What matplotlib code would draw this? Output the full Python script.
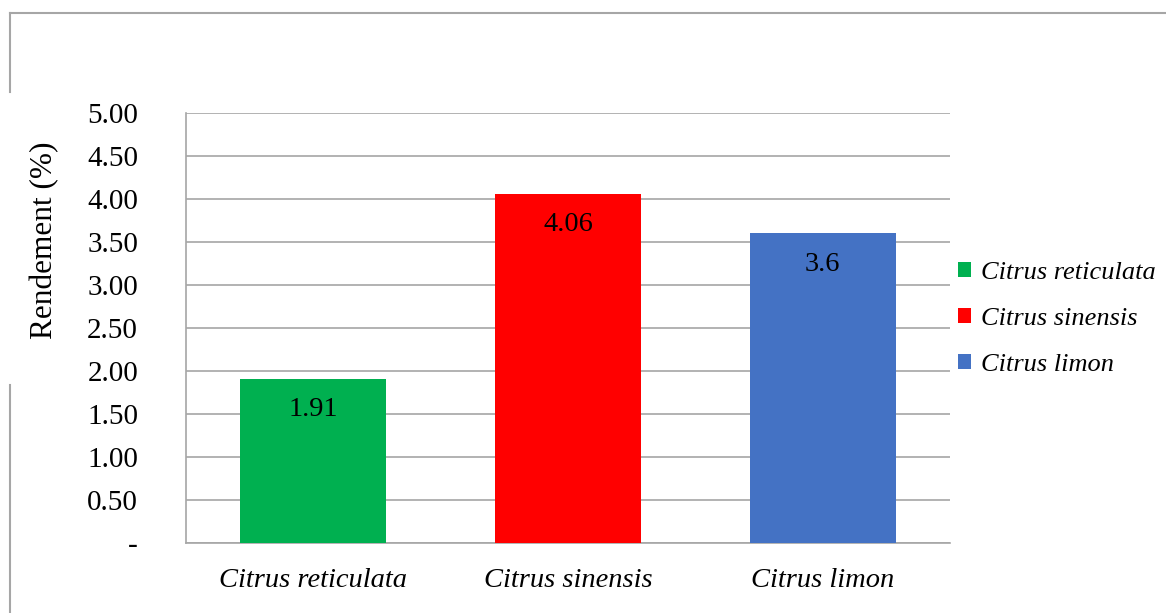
import numpy as np
import matplotlib.pyplot as plt
from matplotlib.lines import Line2D
from matplotlib.patches import Patch

plt.rcParams['font.family'] = ['Liberation Serif', 'DejaVu Serif']

especes = ['Citrus reticulata', 'Citrus sinensis', 'Citrus limon']
rendement = [1.91, 4.06, 3.6]
etiquettes = ['1.91', '4.06', '3.6']
couleurs = ['#00B050', '#FF0000', '#4472C4']
yticks = [0, 0.5, 1.0, 1.5, 2.0, 2.5, 3.0, 3.5, 4.0, 4.5, 5.0]
ytick_labels = ['-', '0.50', '1.00', '1.50', '2.00', '2.50', '3.00', '3.50', '4.00', '4.50', '5.00']

W, H = 1166, 613
fig = plt.figure(figsize=(W / 100, H / 100), dpi=100)
ax = fig.add_axes([186 / W, 1 - 543 / H, (950 - 186) / W, (543 - 113) / H])

x = np.arange(len(especes))
barres = ax.bar(x, rendement, width=0.573, color=couleurs, zorder=3)

for xi, v, lab in zip(x, rendement, etiquettes):
    ax.annotate(lab, (xi, v), xytext=(0, -31), textcoords='offset pixels',
                ha='center', va='center', fontsize=20.5, zorder=4)

ax.set_xlim(-0.5, 2.5)
ax.set_ylim(0, 5)
ax.set_yticks(yticks)
ax.set_yticklabels(ytick_labels, fontsize=21)
ax.set_xticks(x)
ax.set_xticklabels(especes, fontsize=20.5, style='italic')
ax.tick_params(axis='y', length=0, pad=34.5)
ax.tick_params(axis='x', length=0, pad=18)
ax.grid(axis='y', color='#A6A6A6', linewidth=1.2, zorder=0)

for s in ['top', 'right']:
    ax.spines[s].set_visible(False)
for s in ['left', 'bottom']:
    ax.spines[s].set_color('#A6A6A6')
    ax.spines[s].set_linewidth(1.2)

fig.text(45 / W, 1 - 240 / H, 'Rendement (%)', rotation=90, fontsize=22.5,
         ha='center', va='center')

# legende a droite
handles = [Patch(facecolor=c, edgecolor='none') for c in couleurs]
leg = fig.legend(handles, especes, loc='center left',
                 bbox_to_anchor=(947 / W, 1 - 319 / H), frameon=False,
                 prop={'size': 19, 'style': 'italic'},
                 handlelength=0.5, handleheight=0.5, handletextpad=0.4,
                 labelspacing=0.9, borderaxespad=0)

# cadre du graphique
cadre = '#A6A6A6'
fig.add_artist(Line2D([10 / W, 1.0], [1 - 13 / H, 1 - 13 / H], color=cadre, lw=1.5))
fig.add_artist(Line2D([10 / W, 10 / W], [1 - 13 / H, 1 - 92 / H], color=cadre, lw=1.5))
fig.add_artist(Line2D([10 / W, 10 / W], [1 - 385 / H, 0], color=cadre, lw=1.5))

fig.savefig('out.png', dpi=100)
